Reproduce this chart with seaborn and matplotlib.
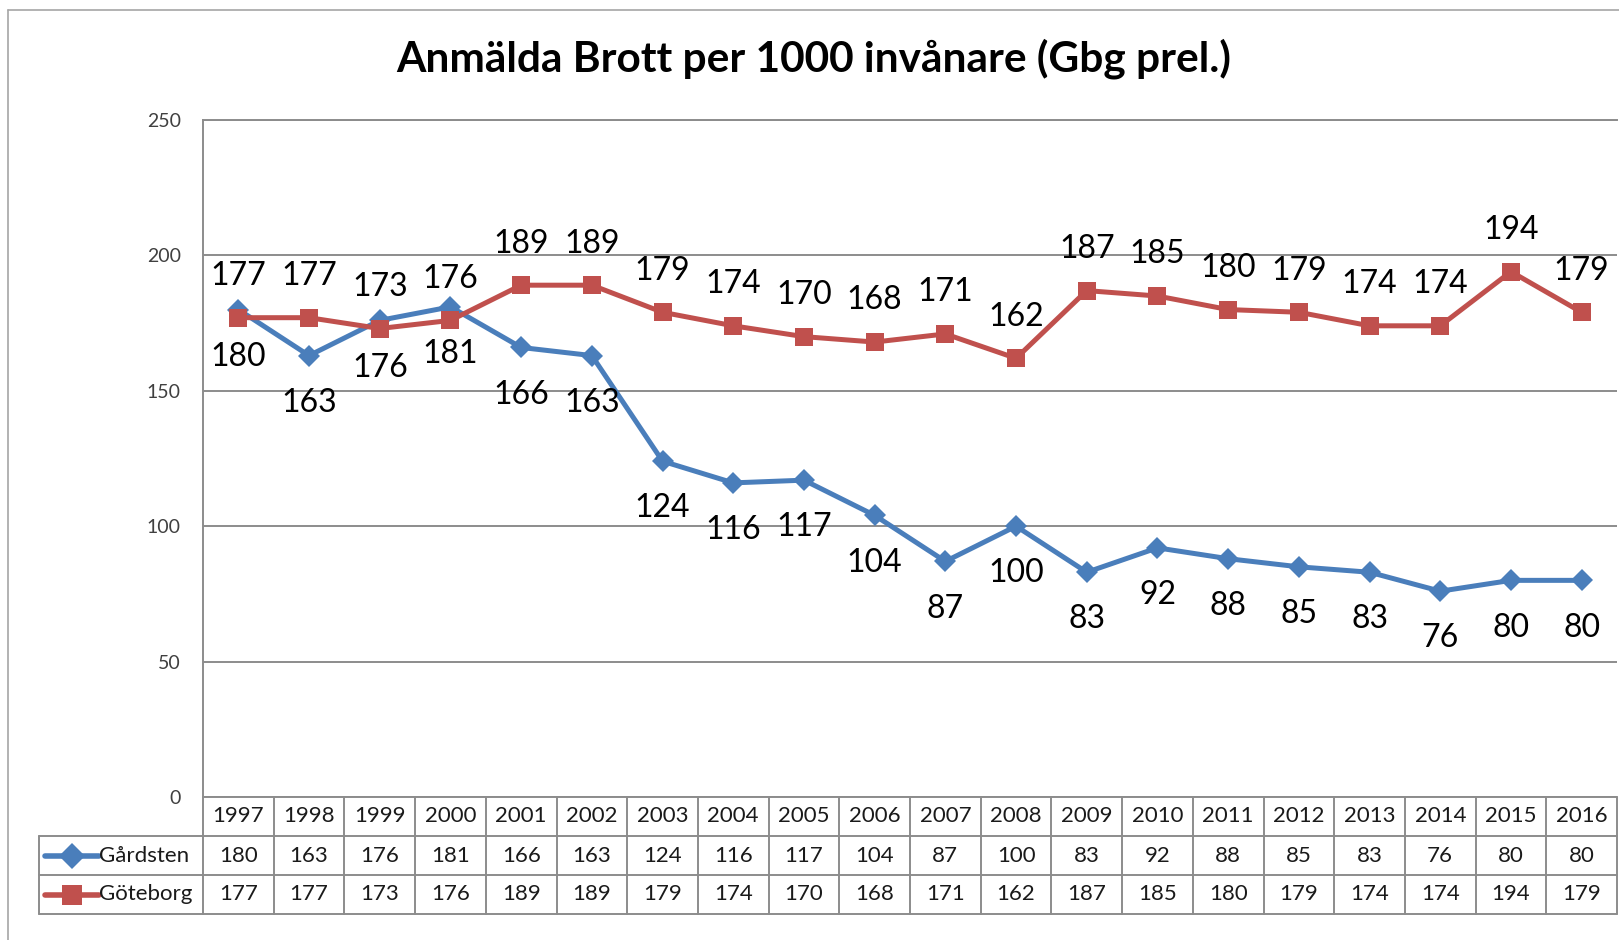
import matplotlib
matplotlib.use('Agg')
import matplotlib.pyplot as plt
import seaborn as sns
import pandas as pd
from matplotlib.lines import Line2D

# ---- data ----
years = [str(y) for y in range(1997, 2017)]
gardsten = [180, 163, 176, 181, 166, 163, 124, 116, 117, 104, 87, 100, 83, 92, 88, 85, 83, 76, 80, 80]
goteborg = [177, 177, 173, 176, 189, 189, 179, 174, 170, 168, 171, 162, 187, 185, 180, 179, 174, 174, 194, 179]
series_names = ['Gårdsten', 'Göteborg']
title = 'Anmälda Brott per 1000 invånare (Gbg prel.)'
yticks = [0, 50, 100, 150, 200, 250]

colors = {'Gårdsten': '#4a7ebb', 'Göteborg': '#c0504d'}
markers = {'Gårdsten': 'D', 'Göteborg': 's'}
msizes = {'Gårdsten': 11, 'Göteborg': 12.5}

sns.set_theme(style='white')
plt.rcParams['font.family'] = ['Lato', 'DejaVu Sans']

W, H = 1619, 940
fig = plt.figure(figsize=(W / 100, H / 100), dpi=100)


def rect(l, t, r, b):
    return [l / W, 1 - b / H, (r - l) / W, (b - t) / H]


n = len(years)
plot_l, plot_r, plot_t, plot_b = 203, 1617, 120, 797
ax = fig.add_axes(rect(plot_l, plot_t, plot_r, plot_b))
tax = fig.add_axes(rect(39, plot_b, plot_r, 914))
cell_w = (plot_r - plot_l) / n
label_w = (plot_l - 39) / cell_w

df = pd.DataFrame({
    'idx': list(range(n)) * 2,
    'value': gardsten + goteborg,
    'series': [series_names[0]] * n + [series_names[1]] * n,
})

gridc = '#8c8c8c'
ax.set_xlim(-0.5, n - 0.5)
ax.set_ylim(0, 250)
ax.set_yticks(yticks)
ax.set_xticks([])
ax.yaxis.grid(True, color=gridc, lw=1.4, zorder=0)
ax.set_axisbelow(True)
for s in ['right', 'bottom']:
    ax.spines[s].set_visible(False)
for s in ['left', 'top']:
    ax.spines[s].set_color(gridc)
    ax.spines[s].set_linewidth(1.4)
ax.tick_params(axis='y', length=0, pad=16, labelsize=14, labelcolor='#404040')

for name in series_names:
    sub = df[df['series'] == name]
    sns.lineplot(data=sub, x='idx', y='value', color=colors[name], marker=markers[name],
                 markersize=msizes[name], markeredgewidth=0, linewidth=3.6,
                 legend=False, ax=ax, clip_on=False)
ax.set_xlabel('')
ax.set_ylabel('')

for i, v in enumerate(gardsten):
    ax.annotate(str(v), (i, v), xytext=(0, -34), textcoords='offset points',
                ha='center', va='center', fontsize=23, color='black')
for i, v in enumerate(goteborg):
    ax.annotate(str(v), (i, v), xytext=(0, 30), textcoords='offset points',
                ha='center', va='center', fontsize=23, color='black')

# ---- data table ----
xmin = -0.5 - label_w
xmax = n - 0.5
tax.set_xlim(xmin, xmax)
tax.set_ylim(3, 0)
tax.axis('off')
lw = 1.4
tax.plot([-0.5, xmax], [0, 0], color=gridc, lw=lw, clip_on=False)
for yy in [1, 2, 3]:
    tax.plot([xmin, xmax], [yy, yy], color=gridc, lw=lw, clip_on=False)
for i in range(n + 1):
    tax.plot([i - 0.5, i - 0.5], [0, 3], color=gridc, lw=lw, clip_on=False)
tax.plot([xmin, xmin], [1, 3], color=gridc, lw=lw, clip_on=False)

tfs = 16
for i, y in enumerate(years):
    tax.text(i, 0.5, y, ha='center', va='center', fontsize=tfs, color='#1a1a1a')
for row, vals in [(1.5, gardsten), (2.5, goteborg)]:
    for i, v in enumerate(vals):
        tax.text(i, row, str(v), ha='center', va='center', fontsize=tfs, color='#1a1a1a')


def px2x(px):
    return xmin + (px - 39) / cell_w


for row, name in [(1.5, series_names[0]), (2.5, series_names[1])]:
    tax.plot([px2x(45), px2x(99)], [row, row], color=colors[name], lw=4, clip_on=False)
    tax.plot([px2x(72)], [row], marker=markers[name], color=colors[name],
             markersize=msizes[name] + 2, markeredgewidth=0, clip_on=False)
    tax.text(px2x(99), row, name, ha='left', va='center', fontsize=tfs, color='#1a1a1a')

# ---- title and outer border ----
fig.text(814 / W, 1 - 59 / H, title, ha='center', va='center', fontsize=30.5,
         fontweight='bold', color='black')
bc = '#a6a6a6'
fig.add_artist(Line2D([8 / W, 8 / W], [0, 1 - 10 / H], transform=fig.transFigure, color=bc, lw=1.2))
fig.add_artist(Line2D([8 / W, 1], [1 - 10 / H, 1 - 10 / H], transform=fig.transFigure, color=bc, lw=1.2))

fig.savefig('out.png', dpi=100, facecolor='white')
